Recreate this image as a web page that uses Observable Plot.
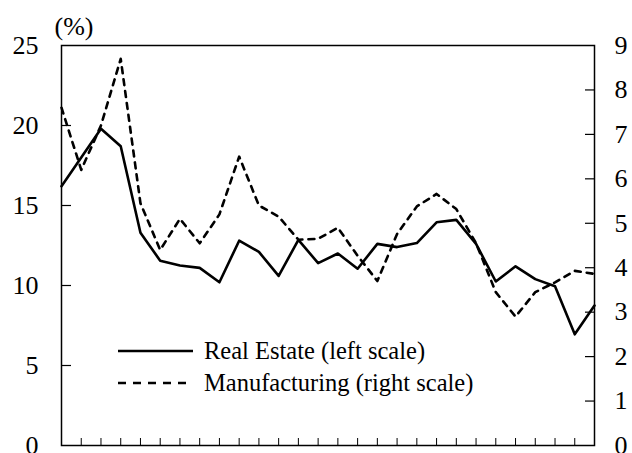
<!DOCTYPE html>
<html>
<head>
<meta charset="utf-8">
<script src="https://cdn.jsdelivr.net/npm/d3@7"></script>
<script src="https://cdn.jsdelivr.net/npm/@observablehq/plot@0.6"></script>
<style>
  html, body { margin: 0; padding: 0; background: #fff; }
  #wrap { position: relative; width: 632px; height: 453px; overflow: hidden; font-family: "Liberation Serif", "Times New Roman", serif; }
  #legend { position: absolute; left: 117px; top: 335px; font-size: 24.5px; color: #000; line-height: 32px; }
  #legend div { display: flex; align-items: center; white-space: nowrap; }
  #legend svg { margin-right: 7px; }
</style>
</head>
<body>
<div id="wrap">
  <div id="chart"></div>
  <div id="legend"></div>
</div>
<script>
const periods = [0, 1, 2, 3, 4, 5, 6, 7, 8, 9, 10, 11, 12, 13, 14, 15, 16, 17, 18, 19, 20, 21, 22, 23, 24, 25, 26, 27];
const realEstate = [16.2, 18.0, 19.8, 18.7, 13.3, 11.55, 11.25, 11.1, 10.2, 12.8, 12.1, 10.6, 12.85, 11.4, 12.0, 11.05, 12.6, 12.4, 12.65, 13.95, 14.1, 12.6, 10.25, 11.2, 10.4, 9.95, 6.95, 8.75];
const manufacturing = [7.6, 6.2, 7.2, 8.7, 5.45, 4.4, 5.1, 4.55, 5.2, 6.5, 5.4, 5.15, 4.63, 4.65, 4.9, 4.27, 3.7, 4.76, 5.38, 5.66, 5.32, 4.55, 3.45, 2.9, 3.45, 3.67, 3.93, 3.86];
const leftTicks = [0, 5, 10, 15, 20, 25];
const rightTicks = [0, 1, 2, 3, 4, 5, 6, 7, 8, 9];
const leftMax = 25, rightMax = 9;
const unitLabel = "(%)";
const seriesNames = ["Real Estate (left scale)", "Manufacturing (right scale)"];

const k = leftMax / rightMax;
const reData = periods.map((p, i) => ({p, v: realEstate[i]}));
const mfData = periods.map((p, i) => ({p, v: manufacturing[i] * k}));
const blank = () => "";

const chart = Plot.plot({
  width: 632,
  height: 453,
  marginLeft: 61,
  marginRight: 38,
  marginTop: 45,
  marginBottom: 8,
  style: {fontFamily: "'Liberation Serif', 'Times New Roman', serif", fontSize: "26px", color: "#000", background: "#fff", overflow: "visible"},
  x: {domain: [0, 27]},
  y: {domain: [0, leftMax]},
  marks: [
    Plot.line(mfData, {x: "p", y: "v", stroke: "#000", strokeWidth: 2.6, strokeDasharray: "6,6"}),
    Plot.line(reData, {x: "p", y: "v", stroke: "#000", strokeWidth: 2.6}),
    Plot.axisX({ticks: periods, tickSize: -7, tickFormat: blank, label: null, strokeWidth: 1}),
    Plot.axisY({ticks: leftTicks.slice(1, -1), anchor: "left", tickSize: -10, tickFormat: blank, label: null, strokeWidth: 1.2}),
    Plot.axisY({ticks: leftTicks, anchor: "left", tickSize: 0, tickPadding: 23, label: null, fontSize: 26}),
    Plot.axisY({ticks: rightTicks.slice(1, -1).map(t => t * k), anchor: "right", tickSize: -10, tickFormat: blank, label: null, strokeWidth: 1.2}),
    Plot.axisY({ticks: rightTicks.map(t => t * k), anchor: "right", tickSize: 0, tickPadding: 20, tickFormat: d => String(Math.round(d / k)), label: null, fontSize: 26}),
    Plot.frame({stroke: "#000", strokeWidth: 1.5}),
    Plot.text([unitLabel], {frameAnchor: "top-left", textAnchor: "start", dx: -7, dy: -11, lineAnchor: "bottom", fontSize: 26})
  ]
});
document.getElementById("chart").appendChild(chart);

const legend = document.getElementById("legend");
const styles = [{dash: null, len: 76}, {dash: "8,7", len: 72}];
seriesNames.forEach((name, i) => {
  const row = document.createElement("div");
  const s = styles[i];
  row.innerHTML = `<svg width="80" height="10"><line x1="1" x2="${s.len}" y1="5" y2="5" stroke="#000" stroke-width="2.6" ${s.dash ? `stroke-dasharray="${s.dash}"` : ""}/></svg><span>${name}</span>`;
  legend.appendChild(row);
});
</script>
</body>
</html>
